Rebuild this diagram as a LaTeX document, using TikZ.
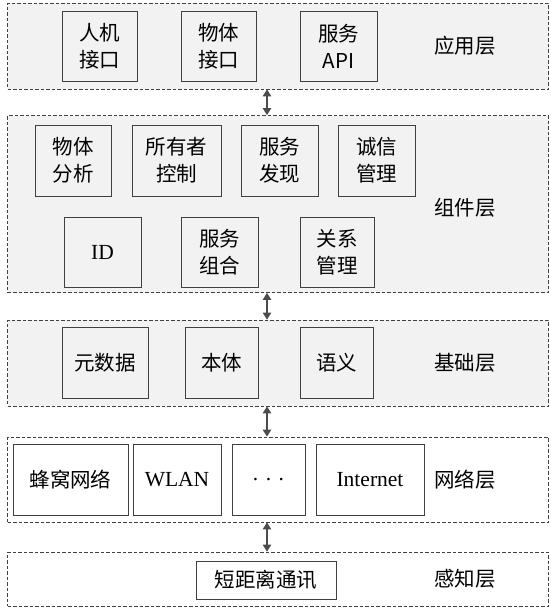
\documentclass[tikz,border=0pt]{standalone}
\usepackage{fontspec}
\setmainfont{Liberation Serif}
\newfontfamily\cjk{Noto Sans CJK SC}
\usetikzlibrary{positioning,arrows.meta}
\definecolor{layergray}{HTML}{F2F2F2}

\begin{document}
\begin{tikzpicture}[x=1pt, y=-1pt,
    layer/.style = {draw=black!75, dash pattern=on 3.5pt off 2pt, line width=0.8pt, minimum width=541pt, inner sep=0pt},
    item/.style = {draw=black!75, line width=0.9pt, align=center, inner sep=0pt, font=\fontsize{20.5}{27}\selectfont\cjk},
    latin/.style = {font=\fontsize{21.5}{27}\selectfont\rmfamily},
    tag/.style = {font=\fontsize{20.5}{24}\selectfont\cjk},
    link/.style = {{Triangle[length=7pt,width=8.5pt]}-{Triangle[length=7pt,width=8.5pt]}, draw=black!70, line width=1.1pt}]
    \useasboundingbox (0,0) rectangle (550,608);

    % layers
    \node[layer, fill=layergray, minimum height=86pt](app) at (278,46){};
    \node[layer, fill=layergray, minimum height=177pt](comp) at (278,204){};
    \node[layer, fill=layergray, minimum height=86pt](base) at (278,363){};
    \node[layer, minimum height=85pt](net) at (278,479.5){};
    \node[layer, minimum height=54pt](sense) at (278,579){};

    % application layer
    \node[item, minimum width=75pt, minimum height=70pt](a1) at (99.5,46){人机\\接口};
    \node[item, minimum width=75pt, minimum height=70pt](a2) at (218.5,46){物体\\接口};
    \node[item, minimum width=77pt, minimum height=70pt](a3) at (338.5,46){服务\\API};
    \node[tag](appname) at (465,46){应用层};

    % component layer
    \node[item, minimum width=76pt, minimum height=71pt](c1) at (73,160.5){物体\\分析};
    \node[item, minimum width=89pt, minimum height=71pt](c2) at (176.5,160.5){所有者\\控制};
    \node[item, minimum width=77pt, minimum height=71pt](c3) at (279.5,160.5){服务\\发现};
    \node[item, minimum width=77pt, minimum height=71pt](c4) at (376.5,160.5){诚信\\管理};
    \node[item, latin, minimum width=77pt, minimum height=70pt](c5) at (102.5,252){ID};
    \node[item, minimum width=77pt, minimum height=70pt](c6) at (219.5,252){服务\\组合};
    \node[item, minimum width=74pt, minimum height=70pt](c7) at (337,252){关系\\管理};
    \node[tag](compname) at (465,208){组件层};

    % base layer
    \node[item, minimum width=86pt, minimum height=70.5pt](b1) at (105,363){元数据};
    \node[item, minimum width=73pt, minimum height=70.5pt](b2) at (221.5,363){本体};
    \node[item, minimum width=73pt, minimum height=70.5pt](b3) at (336.5,363){语义};
    \node[tag](basename) at (465,363){基础层};

    % network layer
    \node[item, minimum width=115pt, minimum height=71pt](n1) at (70.5,479.5){蜂窝网络};
    \node[item, latin, minimum width=88pt, minimum height=71pt](n2) at (177,479.5){WLAN};
    \node[item, latin, minimum width=73pt, minimum height=71pt](n3) at (268.5,479.5){.\hspace{7.5pt}.\hspace{7.5pt}.};
    \node[item, latin, minimum width=108pt, minimum height=71pt](n4) at (370,479.5){Internet};
    \node[tag](netname) at (465,480){网络层};

    % sensing layer
    \node[item, minimum width=140pt, minimum height=38pt](s1) at (266,580){短距离通讯};
    \node[tag](sensename) at (465,579){感知层};

    % links between layers
    \coordinate (ax) at (267,0);
    \draw[link] (app.south -| ax) -- (comp.north -| ax);
    \draw[link] (comp.south -| ax) -- (base.north -| ax);
    \draw[link] (base.south -| ax) -- (net.north -| ax);
    \draw[link] (net.south -| ax) -- (sense.north -| ax);
\end{tikzpicture}
\end{document}
